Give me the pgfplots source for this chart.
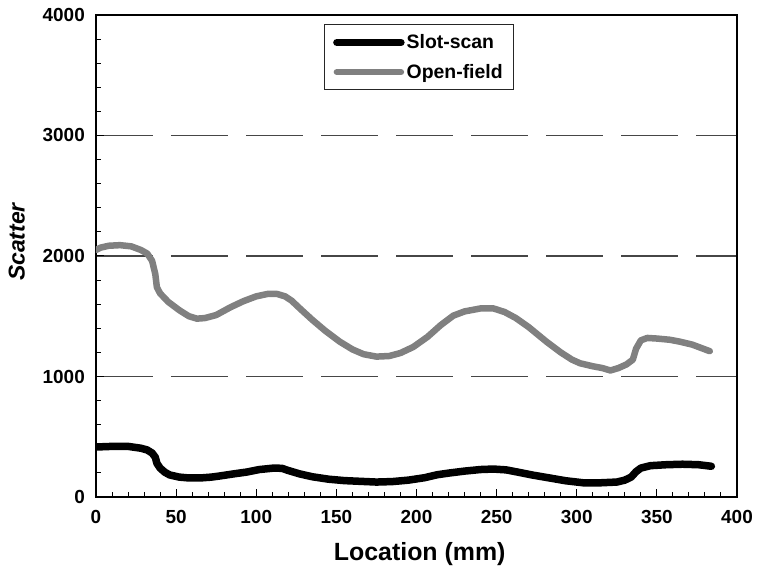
\documentclass[border=0pt]{standalone}
\usepackage{fontspec}
\setmainfont{Liberation Sans}
\usepackage{pgfplots}
\pgfplotsset{compat=1.18}
\definecolor{openc}{RGB}{128,128,128}
\definecolor{gridc}{RGB}{70,70,70}
\begin{document}
\begin{tikzpicture}
\begin{axis}[
  scale only axis,
  width=641bp, height=482bp,
  xmin=0, xmax=400, ymin=0, ymax=4000,
  xtick={0,50,...,400}, ytick={0,1000,...,4000},
  minor x tick num=4, minor y tick num=4,
  tick align=inside,
  xtick pos=bottom, ytick pos=left,
  major tick length=8bp, minor tick length=5bp,
  every tick/.style={black, line width=1bp},
  axis line style={line width=2.8bp},
  /pgf/number format/assume math mode=true,
  /pgf/number format/1000 sep={},
  tick label style={font=\bfseries\fontsize{19}{22}\selectfont, inner sep=0pt},
  xticklabel style={anchor=base, yshift=-26bp},
  yticklabel style={anchor=east, xshift=-11bp},
  ymajorgrids,
  grid style={gridc, line width=1.3bp, dash pattern=on 57bp off 18bp},
  xlabel={Location (mm)},
  xlabel style={font=\bfseries\fontsize{25}{30}\selectfont, at={(axis description cs:0.505,0)}, anchor=base, yshift=-63bp, inner sep=0pt},
  ylabel={\itshape Scatter},
  ylabel style={font=\bfseries\fontsize{23}{27}\selectfont, at={(axis description cs:0,0.529)}, rotate=0, anchor=south, yshift=71bp, inner sep=0pt},
  legend style={at={(rel axis cs:0.355,0.981)}, anchor=north west, draw=black!85, line width=1.2bp,
     font=\bfseries\fontsize{19.5}{22}\selectfont, row sep=10bp, inner xsep=9bp, inner ysep=8bp,
     cells={anchor=west}},
  legend image code/.code={\draw[#1, line cap=round] (0bp,0bp) -- (64bp,0bp);},
  legend cell align=left,
]
\addplot[black, line width=7.5bp, line join=round, line cap=round] coordinates {
(0,415)(10,420)(20,420)(28,405)(32,390)(35,365)(37,330)(38,280)(40,240)(43,205)(46,183)(52,165)(58,158)(65,158)(72,165)(77,174)(85,190)(94,207)(102,228)(111,240)(116,238)(120,220)(127,192)(135,168)(145,148)(155,136)(165,130)(175,124)(185,128)(195,140)(205,160)(213,185)(221,200)(230,215)(240,228)(248,232)(256,225)(263,207)(272,183)(283,158)(293,135)(304,118)(315,118)(325,124)(330,140)(334,166)(337,210)(340,240)(346,260)(356,268)(366,272)(376,268)(384,255)
};
\addlegendentry{Slot-scan}
\addplot[openc, line width=6.5bp, line join=round, line cap=round] coordinates {
(0,2050)(3,2070)(8,2085)(15,2090)(22,2080)(28,2050)(32,2020)(35,1960)(37,1850)(38,1740)(40,1690)(45,1620)(52,1550)(58,1500)(63,1480)(68,1485)(75,1510)(84,1575)(92,1625)(100,1665)(107,1685)(113,1685)(118,1665)(122,1630)(128,1555)(135,1470)(143,1380)(152,1290)(160,1225)(167,1185)(175,1165)(183,1170)(190,1195)(198,1245)(207,1330)(215,1425)(223,1505)(230,1540)(240,1565)(248,1565)(255,1535)(262,1485)(270,1410)(281,1290)(290,1200)(297,1140)(302,1110)(310,1085)(316,1070)(321,1050)(326,1070)(331,1100)(335,1140)(337,1230)(340,1300)(344,1320)(350,1315)(358,1305)(364,1290)(372,1265)(378,1235)(383,1210)
};
\addlegendentry{Open-field}
\end{axis}
\pgfresetboundingbox
\path[use as bounding box] ([xshift=-96bp,yshift=-72bp]current axis.south west) rectangle ([xshift=24bp,yshift=15bp]current axis.north east);
\end{tikzpicture}
\end{document}
